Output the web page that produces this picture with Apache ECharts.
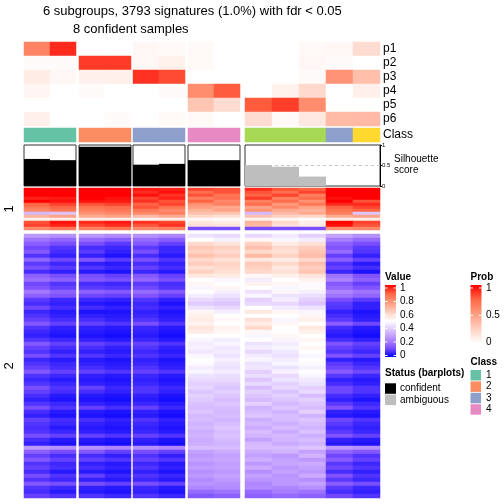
<!DOCTYPE html>
<html><head><meta charset="utf-8">
<script src="https://cdn.jsdelivr.net/npm/echarts@6/dist/echarts.min.js"></script>
<style>html,body{margin:0;padding:0;background:#fff}#c{width:504px;height:504px}</style>
</head><body><div id="c"></div>
<script>
// ---------------- DATA ----------------
const titleLines = ['6 subgroups, 3793 signatures (1.0%) with fdr < 0.05', '8 confident samples'];
const sampleIds = ['S1','S2','S3','S4','S5','S6','S7','S8','S9','S10','S11','S12','S13'];
const colGroups = [[0,1],[2,3],[4,5],[6,7],[8,9,10,11,12]];
const probNames = ['p1','p2','p3','p4','p5','p6'];
const p1 = [0.62,0.90,0.00,0.00,0.04,0.03,0.03,0.00,0.00,0.00,0.03,0.04,0.18];
const p2 = [0.02,0.02,0.86,0.86,0.04,0.07,0.03,0.00,0.00,0.00,0.04,0.02,0.00];
const p3 = [0.10,0.04,0.08,0.08,0.88,0.82,0.00,0.00,0.00,0.00,0.02,0.55,0.33];
const p4 = [0.05,0.00,0.02,0.00,0.00,0.02,0.58,0.78,0.00,0.07,0.20,0.00,0.08];
const p5 = [0.00,0.00,0.00,0.00,0.00,0.00,0.30,0.18,0.78,0.85,0.58,0.00,0.00];
const p6 = [0.08,0.00,0.00,0.02,0.00,0.03,0.03,0.00,0.18,0.03,0.12,0.35,0.36];
const probRows = [p1,p2,p3,p4,p5,p6];
const classOf = [1,1,2,2,3,3,4,4,5,5,5,3,6];
const classIds = [1,2,3,4,5,6];
const classColors = ['#66C2A5','#FC8D62','#8DA0CB','#E78AC3','#A6D854','#FFD92F'];
const legendClasses = ['1','2','3','4'];
const silhouette = [0.66,0.63,0.96,0.96,0.52,0.54,0.63,0.63,0.51,0.47,0.23,0,0];
const status = ['confident','confident','confident','confident','confident','confident','confident','confident','ambiguous','ambiguous','ambiguous','ambiguous','ambiguous'];
const statusNames = ['confident','ambiguous'];
const statusColors = ['#000000','#BEBEBE'];
const silTicks = [0,0.5,1];
const valueTicks = [1,0.8,0.6,0.4,0.2,0];
const probTicks = [1,0.5,0];
const rowSplitNames = ['1','2'];
// heatmap, row split 1 (columns S1..S13)
const hmTop = [
[1,1,1,1,.97,.96,.92,.9,.95,.9,.88,1,1],
[1,1,1,1,.95,.98,.86,.9,.9,.86,.92,1,1],
[1,1,1,1,.98,.94,.9,.84,.88,.92,.82,1,1],
[.96,.97,1,.98,.92,.96,.82,.86,.93,.82,.86,.98,1],
[1,.98,.98,.97,.94,.9,.88,.8,.82,.86,.78,1,.9],
[.88,.92,.9,.92,.88,.92,.78,.82,.86,.76,.84,.95,.95],
[.84,.88,.85,.86,.9,.85,.75,.72,.74,.8,.74,.88,.92],
[.8,.84,.82,.84,.84,.8,.7,.74,.78,.72,.7,.85,.88],
[.35,.38,.78,.8,.8,.82,.66,.65,.35,.68,.72,.82,.38],
[.7,.74,.72,.74,.68,.72,.6,.58,.66,.62,.6,.72,.74],
[.54,.55,.55,.55,.53,.55,.52,.51,.53,.52,.51,.55,.55],
[.9,.98,.95,.97,.94,.92,.56,.55,.7,.6,.54,1,.92],
[.92,.96,.92,.95,.9,.94,.58,.57,.68,.58,.55,.98,.9],
[.8,.84,.82,.85,.8,.82,.12,.12,.12,.12,.12,.78,.8]
];
// heatmap, row split 2
const hmBottom = [
[.28,.26,.27,.25,.26,.24,.44,.42,.42,.45,.40,.30,.26],
[.20,.17,.18,.15,.18,.15,.50,.47,.52,.48,.46,.22,.18],
[.15,.12,.12,.09,.14,.10,.60,.57,.62,.55,.58,.16,.12],
[.11,.08,.07,.06,.09,.06,.64,.62,.66,.60,.63,.13,.09],
[.14,.07,.09,.05,.12,.06,.62,.60,.60,.58,.65,.18,.08],
[.08,.05,.05,.03,.07,.04,.66,.63,.68,.62,.67,.10,.05],
[.17,.11,.13,.09,.12,.08,.60,.58,.56,.55,.60,.15,.10],
[.09,.06,.05,.04,.07,.05,.63,.61,.64,.60,.66,.08,.04],
[.12,.09,.08,.06,.10,.07,.58,.60,.62,.56,.63,.10,.07],
[.07,.05,.04,.03,.06,.04,.62,.58,.60,.58,.65,.06,.03],
[.16,.12,.12,.10,.14,.10,.56,.55,.52,.54,.57,.20,.13],
[.19,.16,.14,.12,.17,.12,.50,.48,.46,.50,.53,.23,.16],
[.11,.08,.07,.06,.09,.07,.52,.50,.53,.52,.49,.14,.10],
[.13,.10,.09,.08,.11,.08,.48,.52,.50,.48,.51,.17,.13],
[.21,.16,.16,.14,.18,.14,.50,.47,.44,.52,.47,.24,.20],
[.16,.13,.11,.10,.13,.10,.46,.44,.48,.44,.43,.20,.17],
[.09,.06,.06,.05,.08,.05,.42,.40,.40,.46,.40,.12,.09],
[.07,.05,.04,.03,.06,.03,.39,.38,.42,.42,.38,.09,.05],
[.11,.07,.07,.05,.07,.05,.44,.42,.50,.46,.44,.08,.05],
[.06,.04,.03,.03,.05,.03,.52,.46,.56,.52,.48,.05,.03],
[.08,.05,.05,.04,.06,.04,.54,.50,.50,.50,.52,.07,.04],
[.10,.07,.07,.05,.08,.05,.55,.52,.58,.48,.54,.09,.05],
[.14,.10,.10,.08,.12,.08,.53,.50,.55,.52,.50,.15,.11],
[.08,.05,.05,.04,.06,.04,.57,.53,.60,.50,.56,.07,.04],
[.06,.04,.04,.03,.05,.03,.55,.52,.52,.50,.54,.05,.03],
[.05,.03,.03,.02,.04,.02,.50,.50,.48,.52,.50,.04,.02],
[.08,.06,.05,.04,.06,.04,.48,.46,.50,.48,.52,.07,.05],
[.14,.10,.10,.08,.10,.08,.46,.48,.44,.46,.50,.13,.10],
[.10,.07,.07,.05,.08,.05,.47,.45,.46,.48,.52,.10,.08],
[.08,.05,.05,.04,.06,.04,.45,.46,.42,.45,.50,.08,.06],
[.12,.08,.08,.06,.08,.06,.48,.44,.46,.44,.48,.13,.10],
[.06,.04,.04,.03,.05,.03,.50,.47,.48,.46,.50,.05,.04],
[.08,.06,.05,.04,.06,.04,.49,.45,.44,.48,.49,.09,.06],
[.10,.07,.07,.05,.08,.05,.46,.44,.45,.44,.47,.11,.08],
[.14,.10,.10,.08,.10,.08,.48,.46,.40,.47,.50,.15,.11],
[.08,.06,.05,.04,.06,.04,.44,.43,.43,.42,.48,.09,.06],
[.06,.04,.04,.03,.05,.03,.42,.42,.38,.44,.45,.05,.04],
[.08,.06,.05,.04,.06,.04,.40,.40,.42,.40,.44,.07,.05],
[.12,.08,.10,.06,.08,.06,.41,.38,.36,.42,.40,.11,.08],
[.10,.07,.07,.05,.08,.05,.38,.40,.40,.37,.42,.11,.08],
[.07,.04,.04,.03,.05,.03,.40,.38,.38,.40,.36,.07,.05],
[.05,.03,.03,.02,.04,.02,.39,.36,.35,.38,.40,.05,.03],
[.08,.06,.05,.04,.06,.04,.37,.38,.40,.35,.38,.09,.06],
[.12,.08,.10,.07,.10,.06,.36,.36,.34,.38,.36,.13,.08],
[.07,.04,.04,.03,.05,.03,.38,.35,.36,.34,.40,.05,.04],
[.05,.03,.03,.02,.04,.02,.35,.36,.38,.36,.34,.04,.03],
[.10,.07,.07,.05,.08,.05,.36,.34,.33,.36,.38,.11,.08],
[.08,.06,.05,.04,.06,.04,.34,.36,.35,.33,.36,.09,.06],
[.07,.04,.04,.03,.05,.03,.35,.38,.32,.36,.34,.07,.05],
[.08,.06,.05,.04,.06,.04,.33,.36,.36,.32,.37,.09,.06],
[.12,.10,.10,.08,.10,.08,.34,.37,.34,.35,.33,.13,.10],
[.07,.04,.04,.03,.05,.03,.32,.35,.30,.34,.36,.05,.04],
[.05,.03,.03,.02,.04,.02,.33,.34,.35,.32,.34,.04,.03],
[.28,.26,.26,.24,.26,.24,.36,.36,.36,.36,.38,.28,.26],
[.16,.12,.14,.10,.12,.10,.30,.32,.32,.34,.30,.17,.14],
[.10,.07,.07,.05,.08,.05,.28,.30,.30,.28,.34,.11,.08],
[.14,.10,.10,.08,.10,.08,.30,.31,.33,.30,.28,.15,.10],
[.08,.06,.05,.04,.06,.04,.27,.29,.28,.31,.32,.09,.06],
[.10,.07,.07,.05,.08,.05,.29,.30,.32,.28,.30,.11,.08],
[.07,.04,.04,.03,.05,.03,.26,.28,.26,.30,.28,.07,.05],
[.12,.08,.10,.06,.08,.06,.28,.30,.30,.27,.32,.13,.08],
[.08,.06,.05,.04,.06,.04,.25,.28,.27,.28,.26,.09,.06],
[.14,.12,.12,.10,.12,.10,.27,.26,.24,.28,.30,.15,.12],
[.08,.06,.05,.04,.06,.04,.24,.25,.25,.24,.26,.09,.06],
[.07,.04,.04,.03,.05,.03,.18,.20,.18,.22,.20,.07,.05],
[.10,.08,.08,.06,.08,.06,.14,.16,.16,.18,.16,.11,.08]
];

// ---------------- STYLE / LAYOUT ----------------
const FONT = '"Liberation Sans", Arial, Helvetica, sans-serif';
const valueColors = ['#0000FF','#7E51FF','#B38BFF','#DCC4FF','#FFFFFF','#FFCFBF','#FF9E81','#FF6846','#FF0000'];
const probColors = ['#FFFFFF','#FFCFBF','#FF9E81','#FF6846','#FF0000'];
const groupBoxes = [{left:24,width:52},{left:79,width:52},{left:133,width:52},{left:188,width:52},{left:245,width:135}];
const bandProb = {top:42,height:84}, bandClass = {top:128,height:14}, bandSil = {top:145,height:41};
const bandTop = {top:188,height:42}, bandBot = {top:234,height:264};

const chart = echarts.init(document.getElementById('c'), null, {renderer:'canvas', width:504, height:504});
const grids = [], xAxes = [], yAxes = [], series = [];
const valueIdx = [], probIdx = [], classIdx = [];
const hmCommon = {itemStyle:{borderWidth:0}, emphasis:{disabled:true}, progressive:0, silent:true};

function addGrid(box, band, border){
  grids.push({left:box.left, top:band.top, width:box.width, height:band.height, show:!!border,
    borderColor:'#333', borderWidth:1, backgroundColor:'transparent', containLabel:false, outerBoundsMode:'none'});
  return grids.length - 1;
}
const hiddenY = (gi, data) => ({type:'category', gridIndex:gi, data, inverse:true, show:false});

colGroups.forEach((cols, g) => {
  const box = groupBoxes[g];
  const last = g === colGroups.length - 1;
  const xData = cols.map(c => sampleIds[c]);
  const labelY = {fontSize:12, color:'#000', margin:3, fontFamily:FONT, interval:0};
  // probability rows
  let gi = addGrid(box, bandProb);
  xAxes.push({type:'category', gridIndex:gi, data:xData, show:false});
  yAxes.push({type:'category', gridIndex:gi, data:probNames, inverse:true, show:last, position:'right',
    axisLine:{show:false}, axisTick:{show:false}, axisLabel:labelY});
  const pd = [];
  cols.forEach((c,i) => probRows.forEach((row,j) => pd.push([i, j, row[c]])));
  probIdx.push(series.length);
  series.push(Object.assign({type:'heatmap', xAxisIndex:gi, yAxisIndex:gi, data:pd}, hmCommon));
  // class row
  gi = addGrid(box, bandClass);
  xAxes.push({type:'category', gridIndex:gi, data:xData, show:false});
  yAxes.push({type:'category', gridIndex:gi, data:['Class'], show:last, position:'right',
    axisLine:{show:false}, axisTick:{show:false}, axisLabel:labelY});
  classIdx.push(series.length);
  series.push(Object.assign({type:'heatmap', xAxisIndex:gi, yAxisIndex:gi, data:cols.map((c,i)=>[i,0,classOf[c]])}, hmCommon));
  // silhouette
  gi = addGrid(box, bandSil, true);
  xAxes.push({type:'category', gridIndex:gi, data:xData, show:false});
  yAxes.push({type:'value', gridIndex:gi, min:silTicks[0], max:silTicks[silTicks.length-1], interval:0.5, show:last, position:'right',
    splitLine:{show:false}, axisLine:{show:true, lineStyle:{color:'#000', width:1}},
    axisTick:{show:true, length:2, lineStyle:{color:'#000'}},
    axisLabel:{fontSize:6, color:'#000', margin:2, fontFamily:FONT}});
  if (last) {
    series.push({type:'line', xAxisIndex:gi, yAxisIndex:gi, data:[], z:1, silent:true,
      markLine:{silent:true, symbol:['none','none'], label:{show:false},
        lineStyle:{color:'#C8C8C8', type:[3,3], width:1}, data:[{yAxis:0.5}]}});
  }
  series.push({type:'bar', xAxisIndex:gi, yAxisIndex:gi, barCategoryGap:'0%', barGap:'0%', z:2, silent:true,
    data: cols.map(c => ({value:silhouette[c], itemStyle:{color:statusColors[statusNames.indexOf(status[c])]}}))});
  // main heatmap slices
  [[bandTop, hmTop],[bandBot, hmBottom]].forEach(([band, mat]) => {
    const gj = addGrid(box, band);
    xAxes.push({type:'category', gridIndex:gj, data:xData, show:false});
    yAxes.push(hiddenY(gj, mat.map((_,r)=>String(r))));
    const d = [];
    mat.forEach((row,r) => cols.forEach((c,i) => d.push([i, r, row[c]])));
    valueIdx.push(series.length);
    series.push(Object.assign({type:'heatmap', xAxisIndex:gj, yAxisIndex:gj, data:d}, hmCommon));
  });
});

// ---------------- LEGENDS / LABELS ----------------
const graphic = [];
const txt = (x, y, text, size, bold, align) => graphic.push({type:'text', x, y, silent:true,
  style:{text, fontSize:size, fontWeight:bold?'bold':'normal', fontFamily:FONT, fill:'#000', align:align||'left', verticalAlign:'middle'}});
function grad(colors){
  const n = colors.length;
  return new echarts.graphic.LinearGradient(0,0,0,1, colors.slice().reverse().map((c,i)=>({offset:i/(n-1), color:c})));
}
function colorBar(x, top, h, colors, ticks, labX, y0, y1){
  graphic.push({type:'rect', silent:true, shape:{x, y:top, width:11, height:h}, style:{fill:grad(colors)}});
  ticks.forEach(v => {
    const y = y1 + (y0 - y1) * v;
    graphic.push({type:'line', silent:true, shape:{x1:x, y1:y, x2:x+2.5, y2:y}, style:{stroke:'#fff', lineWidth:1}});
    graphic.push({type:'line', silent:true, shape:{x1:x+8.5, y1:y, x2:x+11, y2:y}, style:{stroke:'#fff', lineWidth:1}});
    txt(labX, y, String(v), 10, false);
  });
}
txt(385, 277.5, 'Value', 10, true);
colorBar(385, 285, 72, valueColors, valueTicks, 400, 288, 355.5);
txt(470.5, 277.5, 'Prob', 10, true);
colorBar(470.5, 285, 58, probColors, probTicks, 486, 288, 342.5);
txt(470.5, 362, 'Class', 10, true);
legendClasses.forEach((k,i) => {
  graphic.push({type:'rect', silent:true, shape:{x:470.5, y:370 + i*11.4, width:10.5, height:10.5},
    style:{fill:classColors[classIds.indexOf(Number(k))]}});
  txt(486, 375.3 + i*11.4, k, 10, false);
});
txt(385, 373.5, 'Status (barplots)', 10, true);
statusNames.forEach((s,i) => {
  graphic.push({type:'rect', silent:true, shape:{x:385, y:383.3 + i*11.3, width:11, height:10.5}, style:{fill:statusColors[i]}});
  txt(400, 388.5 + i*11.3, s, 10, false);
});
txt(394, 159, 'Silhouette', 10, false);
txt(394, 170, 'score', 10, false);
[[rowSplitNames[0], bandTop],[rowSplitNames[1], bandBot]].forEach(([t, band]) => {
  graphic.push({type:'text', x:9, y:band.top + band.height/2, rotation:Math.PI/2, silent:true,
    style:{text:t, fontSize:13, fontFamily:FONT, fill:'#000', align:'center', verticalAlign:'middle'}});
});

chart.setOption({
  animation:false,
  backgroundColor:'#fff',
  textStyle:{fontFamily:FONT},
  title:[
    {text:titleLines[0], left:43, top:4.5, padding:0, textStyle:{fontSize:13, fontWeight:'normal', color:'#000', fontFamily:FONT}},
    {text:titleLines[1], left:73, top:23, padding:0, textStyle:{fontSize:13, fontWeight:'normal', color:'#000', fontFamily:FONT}}
  ],
  grid:grids, xAxis:xAxes, yAxis:yAxes,
  visualMap:[
    {type:'continuous', min:0, max:1, show:false, seriesIndex:valueIdx, inRange:{color:valueColors}},
    {type:'continuous', min:0, max:1, show:false, seriesIndex:probIdx, inRange:{color:probColors}},
    {type:'piecewise', show:false, seriesIndex:classIdx, pieces:classIds.map((k,i)=>({value:k, color:classColors[i]}))}
  ],
  series,
  graphic
});
</script></body></html>
